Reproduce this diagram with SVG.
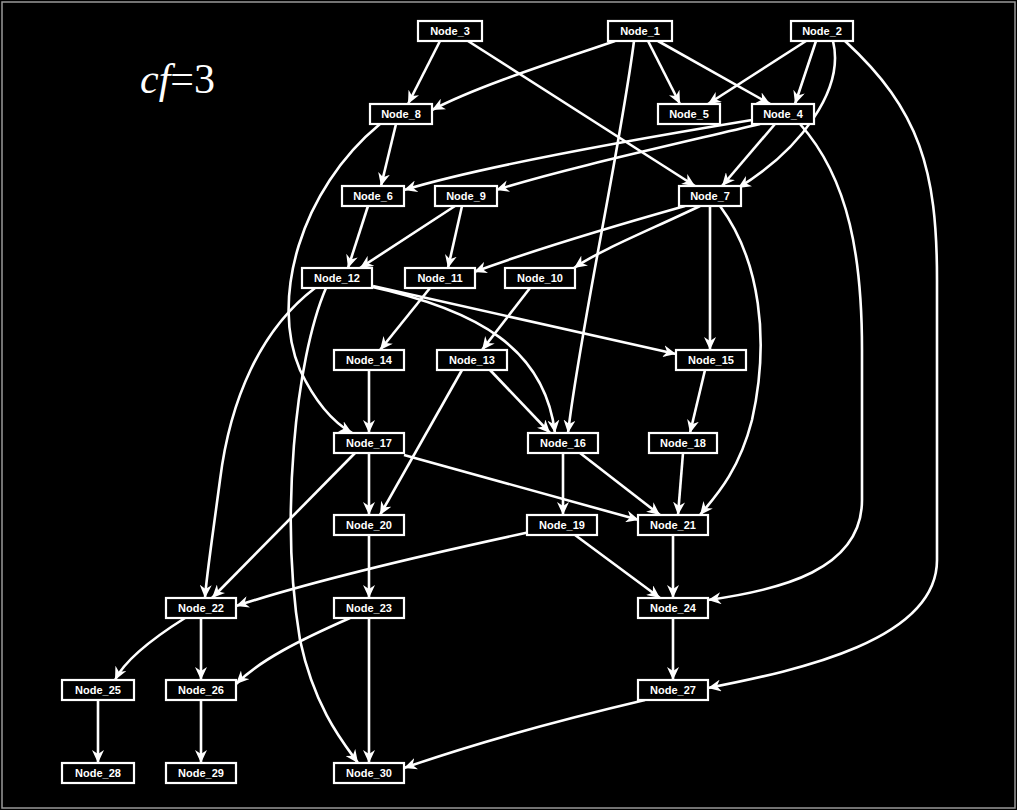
<svg xmlns="http://www.w3.org/2000/svg" width="1017" height="810" viewBox="0 0 1017 810">
<style>
.n rect{fill:#000;stroke:#fff;stroke-width:2.2}
.n text{fill:#fff;font-family:"Liberation Sans",Arial,sans-serif;font-size:11px;font-weight:bold;text-anchor:middle;dominant-baseline:central}
#edges path{fill:none;stroke:#fff;stroke-width:2.6;marker-end:url(#ah)}
</style>
<defs>
<marker id="ah" markerUnits="userSpaceOnUse" markerWidth="14" markerHeight="12" refX="13" refY="6" orient="auto">
<path d="M0,0 L13,6 L0,12 L4,6 Z" fill="#fff"/>
</marker>
</defs>
<rect x="0" y="0" width="1017" height="810" fill="#000"/>
<rect x="2" y="2" width="1013" height="806" fill="none" stroke="#999" stroke-width="1.5"/>
<text x="140" y="93" font-family="Liberation Serif,Times New Roman,serif" font-size="42" fill="#fff"><tspan font-style="italic">cf</tspan>=3</text>
<g id="edges">
<path d="M440,41 L408,104"/>
<path d="M468,41 L695,186"/>
<path d="M615,41 C560,60 480,85 432,110"/>
<path d="M648,41 L680,104"/>
<path d="M658,41 L770,104"/>
<path d="M634,41 C620,150 580,330 568,433"/>
<path d="M806,41 L708,104"/>
<path d="M816,41 L795,104"/>
<path d="M833,41 C845,90 800,150 738,188"/>
<path d="M845,41 C920,110 937,170 937,280 L937,560 C937,640 800,670 708,688"/>
<path d="M396,124 L381,186"/>
<path d="M380,124 C300,190 270,300 300,370 C318,408 338,425 352,433"/>
<path d="M752,120 C600,145 470,170 404,190"/>
<path d="M760,124 C650,150 560,170 496,190"/>
<path d="M775,124 L722,186"/>
<path d="M800,124 C850,180 862,260 862,350 L862,500 C862,570 780,590 708,600"/>
<path d="M368,206 L348,268"/>
<path d="M455,206 L360,268"/>
<path d="M462,206 L448,268"/>
<path d="M685,206 C600,230 520,255 474,272"/>
<path d="M700,206 C650,230 600,250 574,268"/>
<path d="M710,206 L710,350"/>
<path d="M720,206 C760,260 770,340 752,420 C738,475 712,500 700,515"/>
<path d="M315,288 C260,330 230,400 220,480 C212,540 206,580 205,598"/>
<path d="M326,288 C295,360 280,520 300,640 C315,710 345,745 358,763"/>
<path d="M368,286 C480,310 545,350 555,433"/>
<path d="M373,286 L676,354"/>
<path d="M430,288 L380,350"/>
<path d="M530,288 L482,350"/>
<path d="M369,370 L369,433"/>
<path d="M490,370 L550,433"/>
<path d="M462,370 L380,515"/>
<path d="M705,370 L690,433"/>
<path d="M369,453 L369,515"/>
<path d="M355,453 L212,598"/>
<path d="M404,455 L639,520"/>
<path d="M563,453 L563,515"/>
<path d="M580,453 L660,515"/>
<path d="M683,453 L678,515"/>
<path d="M369,535 L369,598"/>
<path d="M530,532 C400,560 300,585 236,606"/>
<path d="M575,535 L660,598"/>
<path d="M673,535 L673,598"/>
<path d="M185,618 C150,640 125,660 115,680"/>
<path d="M201,618 L201,680"/>
<path d="M350,618 C300,640 260,660 236,684"/>
<path d="M369,618 L369,763"/>
<path d="M673,618 L673,680"/>
<path d="M98,700 L98,763"/>
<path d="M201,700 L201,763"/>
<path d="M645,700 C560,720 470,745 404,768"/>
</g>
<g id="node3" class="n"><rect x="418" y="21" width="64" height="20"/><text x="450" y="31">Node_3</text></g>
<g id="node1" class="n"><rect x="608" y="21" width="64" height="20"/><text x="640" y="31">Node_1</text></g>
<g id="node2" class="n"><rect x="791" y="21" width="62" height="20"/><text x="822" y="31">Node_2</text></g>
<g id="node8" class="n"><rect x="370" y="104" width="62" height="20"/><text x="401" y="114">Node_8</text></g>
<g id="node5" class="n"><rect x="658" y="104" width="62" height="20"/><text x="689" y="114">Node_5</text></g>
<g id="node4" class="n"><rect x="752" y="104" width="62" height="20"/><text x="783" y="114">Node_4</text></g>
<g id="node6" class="n"><rect x="342" y="186" width="62" height="20"/><text x="373" y="196">Node_6</text></g>
<g id="node9" class="n"><rect x="435" y="186" width="62" height="20"/><text x="466" y="196">Node_9</text></g>
<g id="node7" class="n"><rect x="679" y="186" width="62" height="20"/><text x="710" y="196">Node_7</text></g>
<g id="node12" class="n"><rect x="302" y="268" width="70" height="20"/><text x="337" y="278">Node_12</text></g>
<g id="node11" class="n"><rect x="405" y="268" width="70" height="20"/><text x="440" y="278">Node_11</text></g>
<g id="node10" class="n"><rect x="505" y="268" width="70" height="20"/><text x="540" y="278">Node_10</text></g>
<g id="node14" class="n"><rect x="334" y="350" width="70" height="20"/><text x="369" y="360">Node_14</text></g>
<g id="node13" class="n"><rect x="437" y="350" width="70" height="20"/><text x="472" y="360">Node_13</text></g>
<g id="node15" class="n"><rect x="676" y="350" width="70" height="20"/><text x="711" y="360">Node_15</text></g>
<g id="node17" class="n"><rect x="334" y="433" width="70" height="20"/><text x="369" y="443">Node_17</text></g>
<g id="node16" class="n"><rect x="528" y="433" width="70" height="20"/><text x="563" y="443">Node_16</text></g>
<g id="node18" class="n"><rect x="649" y="433" width="68" height="20"/><text x="683" y="443">Node_18</text></g>
<g id="node20" class="n"><rect x="334" y="515" width="70" height="20"/><text x="369" y="525">Node_20</text></g>
<g id="node19" class="n"><rect x="527" y="515" width="70" height="20"/><text x="562" y="525">Node_19</text></g>
<g id="node21" class="n"><rect x="638" y="515" width="70" height="20"/><text x="673" y="525">Node_21</text></g>
<g id="node22" class="n"><rect x="166" y="598" width="70" height="20"/><text x="201" y="608">Node_22</text></g>
<g id="node23" class="n"><rect x="334" y="598" width="70" height="20"/><text x="369" y="608">Node_23</text></g>
<g id="node24" class="n"><rect x="638" y="598" width="70" height="20"/><text x="673" y="608">Node_24</text></g>
<g id="node25" class="n"><rect x="62" y="680" width="72" height="20"/><text x="98" y="690">Node_25</text></g>
<g id="node26" class="n"><rect x="166" y="680" width="70" height="20"/><text x="201" y="690">Node_26</text></g>
<g id="node27" class="n"><rect x="638" y="680" width="70" height="20"/><text x="673" y="690">Node_27</text></g>
<g id="node28" class="n"><rect x="62" y="763" width="72" height="20"/><text x="98" y="773">Node_28</text></g>
<g id="node29" class="n"><rect x="166" y="763" width="70" height="20"/><text x="201" y="773">Node_29</text></g>
<g id="node30" class="n"><rect x="334" y="763" width="70" height="20"/><text x="369" y="773">Node_30</text></g>
</svg>
